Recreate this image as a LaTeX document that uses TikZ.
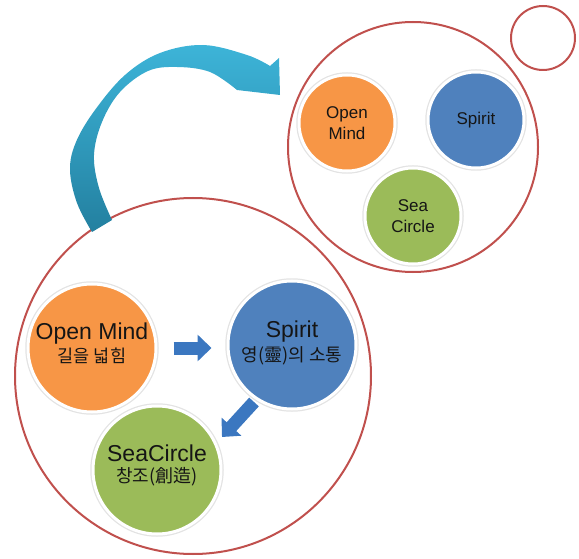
\documentclass[tikz,border=0pt]{standalone}
\usepackage{fontspec}
\setmainfont{Liberation Sans}
\newfontfamily\kr{Noto Sans CJK KR}
\usetikzlibrary{arrows.meta}
\definecolor{ringred}{HTML}{C0504D}
\definecolor{omorange}{HTML}{F79646}
\definecolor{spblue}{HTML}{4F81BD}
\definecolor{scgreen}{HTML}{9BBB59}
\definecolor{arrowblue}{HTML}{3B77C0}
\definecolor{tealtop}{HTML}{3DB4D8}
\definecolor{tealbot}{HTML}{2380A0}
\definecolor{ink}{HTML}{151515}
\tikzset{
  ring/.style={circle, draw=ringred, line width=2pt, inner sep=0pt},
  bubble/.style={circle, fill=#1, draw=white, line width=3pt, inner sep=0pt,
    text=ink, align=center},
  halo/.style={circle, fill=black!11, inner sep=0pt},
  bigtext/.style={text=ink, align=center, inner sep=0pt},
  blockarrow/.style={draw=arrowblue, line width=13pt,
    -{Triangle[width=26pt,length=14pt]}},
}
\begin{document}
\begin{tikzpicture}[x=1pt,y=-1pt]
\useasboundingbox (0,0) rectangle (579,559);

% outline rings
\node[ring, minimum size=356pt] (bigring) at (193,376) {};
\node[ring, minimum size=250pt] (topring) at (413,147) {};
\node[ring, minimum size=64pt] (tinyring) at (543,38) {};

% curved arrow from the lower ring to the upper ring
\shade[top color=tealtop, bottom color=tealbot]
  (92,232) -- (112,220)
  -- plot[smooth, tension=0.6] coordinates {(112,220) (99,188) (94,155)
    (102,122) (120,92) (148,71) (177,67) (210,72) (237,90)}
  -- (280,95) -- (279,58) -- (270,66)
  -- plot[smooth, tension=0.6] coordinates {(270,66) (247,55) (203,45)
    (160,53) (125,75) (95,110) (76,142) (70,170) (77,203) (92,232)}
  -- cycle;

% lower group
\foreach \p in {(92,348),(292,345),(157,470)}
  \node[halo, minimum size=133.5pt] at \p {};
\node[bubble=omorange, minimum size=128pt] (om) at (92,348) {};
\node[bubble=spblue, minimum size=128pt] (sp) at (292,345) {};
\node[bubble=scgreen, minimum size=128pt] (sc) at (157,470) {};

\node[bigtext] (omt) at ([yshift=4.5pt]om.center)
  {\fontsize{23}{26}\selectfont Open Mind\\[3pt]{\kr\fontsize{17.5}{20}\selectfont 길을 넓힘}};
\node[bigtext] (spt) at ([yshift=2pt]sp.center)
  {\fontsize{23}{26}\selectfont Spirit\\[3pt]{\kr\fontsize{18}{20}\selectfont 영(靈)의 소통}};
\node[bigtext] (sct) at ([yshift=4.5pt]sc.center)
  {\fontsize{23}{26}\selectfont SeaCircle\\[4pt]{\kr\fontsize{18}{20}\selectfont 창조(創造)}};

% flow arrows between the lower circles
\draw[blockarrow, shorten <=16pt, shorten >=15pt] (om.east) -- (om.east -| sp.west);
\coordinate (dnstart) at (254,402);
\coordinate (dnend) at (222,437);
\draw[blockarrow] (dnstart) -- (dnend);

% upper group
\foreach \p in {(347,123),(476,120),(413,216)}
  \node[halo, minimum size=101.5pt] at \p {};
\node[bubble=omorange, minimum size=96pt, font=\fontsize{17}{21}\selectfont]
  (om2) at (347,123) {Open\\Mind};
\node[bubble=spblue, minimum size=96pt, font=\fontsize{17}{21}\selectfont]
  (sp2) at (476,120) {Spirit};
\node[bubble=scgreen, minimum size=96pt, font=\fontsize{17}{21}\selectfont]
  (sc2) at (413,216) {Sea\\Circle};
\end{tikzpicture}
\end{document}
